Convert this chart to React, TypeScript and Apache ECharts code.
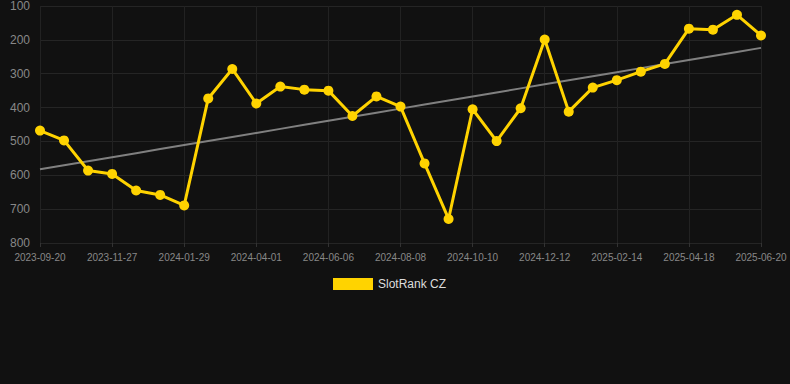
import React, { useEffect, useRef } from "react";
import * as echarts from "echarts";

const categories = [
  "2023-09-20", "2023-10-13", "2023-11-05", "2023-11-27", "2023-12-18", "2024-01-08",
  "2024-01-29", "2024-02-19", "2024-03-11", "2024-04-01", "2024-04-23", "2024-05-15",
  "2024-06-06", "2024-06-27", "2024-07-18", "2024-08-08", "2024-08-29", "2024-09-19",
  "2024-10-10", "2024-10-31", "2024-11-21", "2024-12-12", "2025-01-02", "2025-01-24",
  "2025-02-14", "2025-03-07", "2025-03-28", "2025-04-18", "2025-05-09", "2025-05-30",
  "2025-06-20",
];

const rankValues = [
  468, 497, 586, 596, 645, 658, 689, 373, 286, 388, 338, 347, 350, 425, 367, 397,
  565, 729, 405, 499, 402, 199, 412, 341, 319, 294, 271, 167, 170, 126, 187,
];

const seriesName = "SlotRank CZ";

function trend(values: number[]): number[] {
  const n = values.length;
  const mx = (n - 1) / 2;
  const my = values.reduce((a, b) => a + b, 0) / n;
  let sxy = 0;
  let sxx = 0;
  values.forEach((v, i) => {
    sxy += (i - mx) * (v - my);
    sxx += (i - mx) * (i - mx);
  });
  const slope = sxy / sxx;
  return values.map((_, i) => +(my + slope * (i - mx)).toFixed(2));
}

export default function App() {
  const ref = useRef<HTMLDivElement>(null);
  useEffect(() => {
    if (!ref.current) return;
    const chart = echarts.init(ref.current, undefined, { renderer: "svg" });
    chart.setOption({
      animation: false,
      backgroundColor: "#111111",
      grid: { left: 40, right: 29, top: 6, bottom: 141 },
      legend: {
        data: [seriesName],
        top: 273,
        left: 328,
        itemWidth: 40,
        itemHeight: 12,
        itemGap: 6,
        icon: "rect",
        textStyle: { color: "#dddddd", fontSize: 12, fontFamily: "Arial, Liberation Sans, sans-serif" },
      },
      xAxis: {
        type: "category",
        data: categories,
        boundaryGap: false,
        axisLine: { show: false },
        axisTick: { show: true, interval: 2, length: 4, lineStyle: { color: "#333333" } },
        axisLabel: {
          interval: 2,
          color: "#888888",
          fontSize: 10,
          margin: 9,
          fontFamily: "Arial, Liberation Sans, sans-serif",
        },
        splitLine: { show: true, interval: 2, lineStyle: { color: "#222222", width: 1 } },
      },
      yAxis: {
        type: "value",
        inverse: true,
        min: 100,
        max: 800,
        interval: 100,
        axisLine: { show: false },
        axisTick: { show: false },
        axisLabel: {
          color: "#888888",
          fontSize: 12,
          margin: 10,
          fontFamily: "Arial, Liberation Sans, sans-serif",
        },
        splitLine: { lineStyle: { color: "#252525", width: 1 } },
      },
      series: [
        {
          name: seriesName,
          type: "line",
          data: rankValues,
          color: "#FFD300",
          lineStyle: { color: "#FFD300", width: 3 },
          itemStyle: { color: "#FFD300" },
          symbol: "circle",
          symbolSize: 10,
          z: 3,
        },
        {
          name: "trend",
          type: "line",
          data: trend(rankValues),
          symbol: "none",
          lineStyle: { color: "#808080", width: 2 },
          z: 2,
          silent: true,
        },
      ],
    });
    return () => chart.dispose();
  }, []);
  return (
    <div
      ref={ref}
      style={{ position: "fixed", top: 0, left: 0, width: 790, height: 384 }}
    />
  );
}
